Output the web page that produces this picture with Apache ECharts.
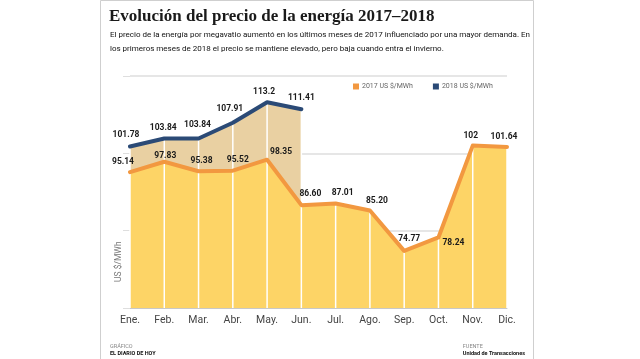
<!DOCTYPE html>
<html><head><meta charset="utf-8">
<script src="https://cdn.jsdelivr.net/npm/echarts@6/dist/echarts.min.js"></script>
<style>html,body{margin:0;padding:0;background:#fff}#c{width:640px;height:359px}</style>
</head><body><div id="c"></div>
<script>
const months = ['Ene.','Feb.','Mar.','Abr.','May.','Jun.','Jul.','Ago.','Sep.','Oct.','Nov.','Dic.'];
const v2017 = ['95.14','97.83','95.38','95.52','98.35','86.60','87.01','85.20','74.77','78.24','102','101.64'];
const v2018 = ['101.78','103.84','103.84','107.91','113.2','111.41'];
const yTicks = [60, 80, 100, 120];

// label nudges (style only)
const off2017 = [[-7,0],[1,5],[3,0],[5,0],[14,3],[9,-1],[7,0],[7,1],[5,-2],[15,16],[-2,1],[-3,0]];
const off2018 = [[-4,-1],[-1,0],[-1,-3],[-3,-3],[-3,0],[0,-1]];

const NARROW = 'Roboto, sans-serif';
const ORANGE = '#f29840', BLUE = '#2b4a76', YELLOW = '#fdd466', TAN = '#e9d0a2';

const whiteBars = months.map((m, i) => Math.max(Number(v2017[i]), i < v2018.length ? Number(v2018[i]) : -Infinity));

const lbl = (arr) => ({ show: true, position: 'top', distance: 5, fontFamily: NARROW, fontWeight: 'bold',
  fontSize: 8.5, color: '#1a1a1a', formatter: p => arr[p.dataIndex] });
const lay = (offs) => (p) => ({ dx: offs[p.dataIndex][0], dy: offs[p.dataIndex][1], hideOverlap: false });

const chart = echarts.init(document.getElementById('c'));
chart.setOption({
  backgroundColor: '#fff',
  animation: false,
  title: [
    { text: 'Evolución del precio de la energía 2017–2018', left: 104, top: 3,
      textStyle: { fontFamily: '"Liberation Serif","DejaVu Serif",serif', fontWeight: 'bold', fontSize: 17, color: '#1a1a1a' } },
    { text: 'El precio de la energía por megavatio aumentó en los últimos meses de 2017 influenciado por una mayor demanda. En\nlos primeros meses de 2018 el precio se mantiene elevado, pero baja cuando entra el invierno.',
      left: 105, top: 23,
      textStyle: { fontFamily: NARROW, fontWeight: 'normal', fontSize: 8, lineHeight: 14, color: '#111' } },
    { text: 'GRÁFICO\n{b|EL DIARIO DE HOY}', left: 105, top: 338,
      textStyle: { fontFamily: NARROW, fontSize: 5.5, lineHeight: 7, color: '#888', fontWeight: 'normal',
        rich: { b: { fontFamily: NARROW, fontSize: 5.5, fontWeight: 'bold', color: '#111' } } } },
    { text: 'FUENTE\n{b|Unidad de Transacciones}', right: 110, top: 338,
      textStyle: { fontFamily: NARROW, fontSize: 5.5, lineHeight: 7, color: '#888', fontWeight: 'normal', align: 'right',
        rich: { b: { fontFamily: NARROW, fontSize: 5.5, fontWeight: 'bold', color: '#111', align: 'right' } } } }
  ],
  legend: {
    left: 348, top: 78, itemWidth: 6, itemHeight: 6, itemGap: 20, icon: 'rect',
    data: ['2017 US $/MWh', '2018 US $/MWh'],
    textStyle: { fontFamily: NARROW, fontSize: 7, color: '#666', padding: [0,0,0,-2] }
  },
  grid: { left: 130, right: 133, top: 76, bottom: 51 },
  xAxis: {
    type: 'category', data: months, boundaryGap: false,
    axisLine: { lineStyle: { color: '#c8c8c8', width: 1 } },
    axisTick: { show: false },
    axisLabel: { fontFamily: NARROW, fontSize: 10.5, color: '#444', margin: 7 }
  },
  yAxis: {
    type: 'value', min: yTicks[0], max: yTicks[yTicks.length - 1], interval: 20,
    axisLine: { show: false },
    axisTick: { show: true, length: 7, lineStyle: { color: '#dedede' } },
    axisLabel: { show: false },
    splitLine: { lineStyle: { color: '#dedede', width: 1.5 } }
  },
  graphic: [
    { type: 'rect', shape: { x: 100.5, y: 0.5, width: 433, height: 370 }, style: { fill: 'none', stroke: '#cfcfcf', lineWidth: 1 }, z: -1 },
    { type: 'text', x: 114, y: 282, rotation: Math.PI / 2,
      style: { text: 'US $/MWh', fontFamily: NARROW, fontSize: 8.5, fill: '#777' } }
  ],
  series: [
    { name: 'area2018', type: 'line', data: v2018, symbol: 'none', silent: true,
      lineStyle: { width: 0 }, areaStyle: { color: TAN, opacity: 1 }, z: 1 },
    { name: 'area2017', type: 'line', data: v2017, symbol: 'none', silent: true,
      lineStyle: { width: 0 }, areaStyle: { color: YELLOW, opacity: 1 }, z: 1 },
    { name: 'sep', type: 'bar', data: whiteBars, barWidth: 1.5, silent: true,
      itemStyle: { color: '#ffffff' }, z: 1 },
    { name: '2017 US $/MWh', type: 'line', data: v2017, symbol: 'circle', symbolSize: 2,
      showSymbol: true, showAllSymbol: true, color: ORANGE, itemStyle: { color: ORANGE },
      lineStyle: { width: 4, color: ORANGE, cap: 'round', join: 'round' }, z: 3, label: lbl(v2017),
      labelLayout: lay(off2017) },
    { name: '2018 US $/MWh', type: 'line', data: v2018, symbol: 'circle', symbolSize: 2,
      showSymbol: true, showAllSymbol: true, color: BLUE, itemStyle: { color: BLUE },
      lineStyle: { width: 4, color: BLUE, cap: 'round', join: 'round' }, z: 3, label: lbl(v2018),
      labelLayout: lay(off2018) }
  ]
});
</script></body></html>
